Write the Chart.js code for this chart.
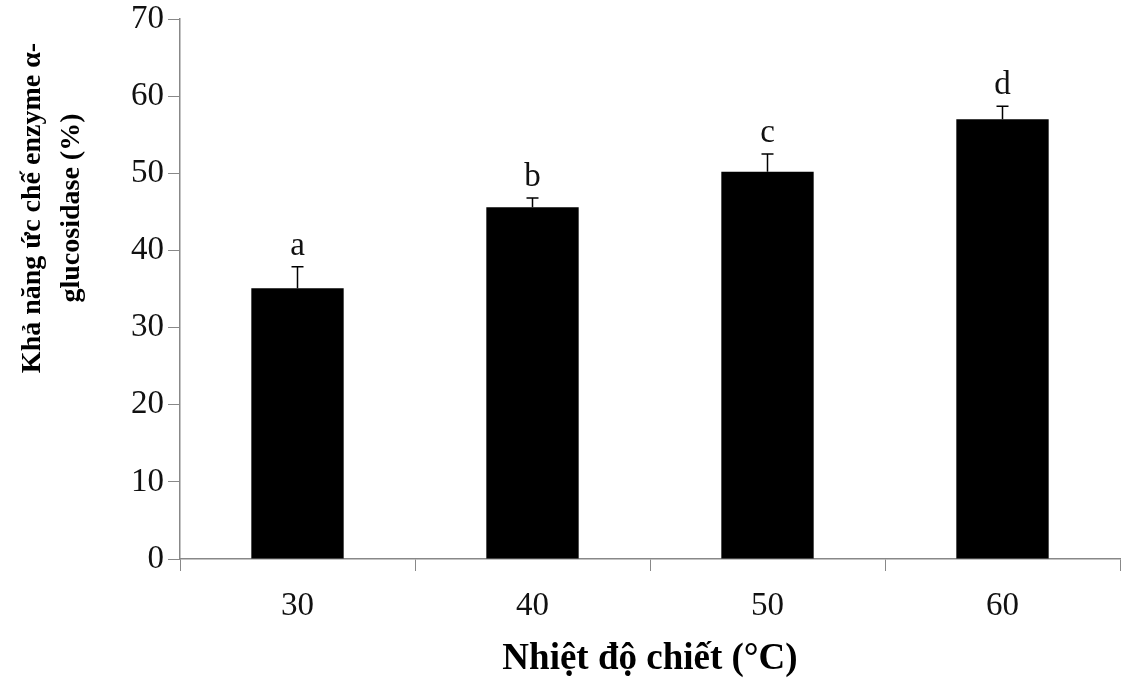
<!DOCTYPE html>
<html>
<head>
<meta charset="utf-8">
<script src="https://cdn.jsdelivr.net/npm/chart.js@4"></script>
<style>
html,body{margin:0;padding:0;background:#fff;}
#wrap{width:1127px;height:679px;position:relative;}
</style>
</head>
<body>
<div id="wrap"><canvas id="c" width="1127" height="679"></canvas></div>
<script>
const categories = ["30", "40", "50", "60"];
const means = [35.1, 45.6, 50.2, 57.0];
const errors = [2.8, 1.2, 2.3, 1.7];
const letters = ["a", "b", "c", "d"];
const yTicks = [0, 10, 20, 30, 40, 50, 60, 70];
const xTitle = "Nhiệt độ chiết (\u00B0C)";
const yTitleLines = ["Khả năng ức chế enzyme α-", "glucosidase (%)"];

const FONT = "'Liberation Serif', 'Times New Roman', serif";

const errPlugin = {
  id: 'errbars',
  afterDatasetsDraw(chart) {
    const ctx = chart.ctx;
    const meta = chart.getDatasetMeta(0);
    const y = chart.scales.y;
    ctx.save();
    ctx.strokeStyle = '#000';
    ctx.lineWidth = 1.5;
    ctx.fillStyle = '#111';
    ctx.font = "33px " + FONT;
    ctx.textAlign = 'center';
    ctx.textBaseline = 'alphabetic';
    meta.data.forEach((bar, i) => {
      const x = bar.x;
      const top = y.getPixelForValue(means[i] + errors[i]);
      const base = y.getPixelForValue(means[i]);
      ctx.beginPath();
      ctx.moveTo(x, base);
      ctx.lineTo(x, top);
      ctx.moveTo(x - 6, top);
      ctx.lineTo(x + 6, top);
      ctx.stroke();
      ctx.fillText(letters[i], x, top - 12);
    });
    ctx.restore();
  }
};

const titlePlugin = {
  id: 'titles',
  afterDraw(chart) {
    const ctx = chart.ctx;
    const area = chart.chartArea;
    ctx.save();
    ctx.fillStyle = '#000';
    ctx.font = "bold 37px " + FONT;
    ctx.textAlign = 'center';
    ctx.textBaseline = 'alphabetic';
    ctx.fillText(xTitle, (area.left + area.right) / 2, 669);
    ctx.font = "bold 28px " + FONT;
    ctx.translate(0, 208);
    ctx.rotate(-Math.PI / 2);
    ctx.textBaseline = 'middle';
    ctx.fillText(yTitleLines[0], 0, 33);
    ctx.fillText(yTitleLines[1], 0, 72);
    ctx.restore();
  }
};

new Chart(document.getElementById('c'), {
  type: 'bar',
  data: {
    labels: categories,
    datasets: [{
      data: means,
      backgroundColor: '#000',
      borderColor: '#000',
      borderWidth: 0,
      categoryPercentage: 1.0,
      barPercentage: 0.393
    }]
  },
  options: {
    responsive: false,
    animation: false,
    devicePixelRatio: 1,
    layout: { padding: { left: 0, right: 7, top: 19, bottom: 0 } },
    plugins: { legend: { display: false }, tooltip: { enabled: false } },
    scales: {
      x: {
        offset: true,
        grid: { display: true, drawOnChartArea: false, drawTicks: true, tickLength: 12, color: '#888', offset: true },
        border: { display: true, color: '#888', width: 1.5 },
        ticks: { color: '#111', font: { family: FONT, size: 33 }, padding: 16 },
        afterFit(s) { s.height = 120; }
      },
      y: {
        min: 0, max: 70,
        afterBuildTicks(s) { s.ticks = yTicks.map(v => ({ value: v })); },
        grid: { display: true, drawOnChartArea: false, drawTicks: true, tickLength: 12, color: '#888' },
        border: { display: true, color: '#888', width: 1.5 },
        ticks: { color: '#111', font: { family: FONT, size: 33, lineHeight: 1.0 }, padding: 4 },
        afterFit(s) { s.width = 180; s.paddingTop = 0; s.paddingBottom = 0; }
      }
    }
  },
  plugins: [errPlugin, titlePlugin]
});
</script>
</body>
</html>
